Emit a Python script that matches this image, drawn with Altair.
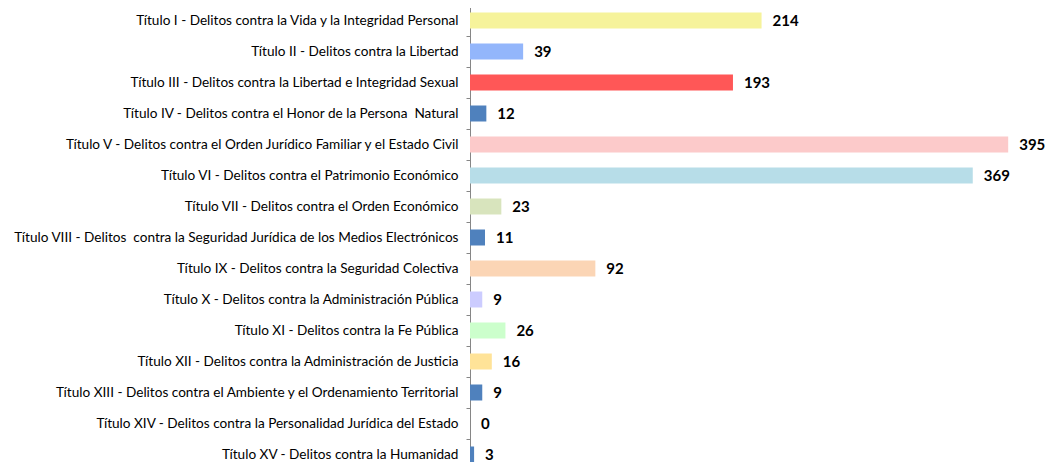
import altair as alt
import pandas as pd

NB = "\u00a0"
categories = [
    "Título I - Delitos contra la Vida y la Integridad Personal" + NB,
    "Título II - Delitos contra la Libertad",
    "Título III - Delitos contra la Libertad e Integridad Sexual" + NB,
    "Título IV - Delitos contra el Honor de la Persona" + NB + " Natural" + NB,
    "Título V - Delitos contra el Orden Jurídico Familiar y el Estado Civil",
    "Título VI - Delitos contra el Patrimonio Económico",
    "Título VII - Delitos contra el Orden Económico",
    "Título VIII - Delitos" + NB + " contra la Seguridad Jurídica de los Medios Electrónicos" + NB,
    "Título IX - Delitos contra la Seguridad Colectiva",
    "Título X - Delitos contra la Administración Pública" + NB,
    "Título XI - Delitos contra la Fe Pública",
    "Título XII - Delitos contra la Administración de Justicia",
    "Título XIII - Delitos contra el Ambiente y el Ordenamiento Territorial",
    "Título XIV - Delitos contra la Personalidad Jurídica del Estado" + NB,
    "Título XV - Delitos contra la Humanidad",
]
values = [214, 39, 193, 12, 395, 369, 23, 11, 92, 9, 26, 16, 9, 0, 3]
colors = [
    "#F6F39B", "#93B6FB", "#FF5757", "#4F81BD", "#FCCACA",
    "#B7DDE8", "#D8E4BD", "#4F81BD", "#FBD5B5", "#CCCCFF",
    "#CCFFCC", "#FFE398", "#4F81BD", "#4F81BD", "#4F81BD",
]

df = pd.DataFrame({"titulo": categories, "casos": values, "color": colors})

yenc = alt.Y(
    "titulo:N",
    sort=categories,
    title=None,
    scale=alt.Scale(paddingInner=0, paddingOuter=0),
    axis=alt.Axis(
        domainColor="#868686",
        tickColor="#868686",
        tickSize=4,
        tickBand="extent",
        labelPadding=8,
        labelFont="Lato",
        labelFontSize=13.6,
        labelColor="#000000",
        labelLimit=0,
        grid=False,
    ),
)

base = alt.Chart(df).encode(y=yenc)

bars = base.mark_bar(size=16).encode(
    x=alt.X("casos:Q", scale=alt.Scale(domain=[0, 400]), axis=None),
    color=alt.Color("color:N", scale=None),
)

text = base.mark_text(
    align="left", baseline="middle", dx=11, font="Lato", fontWeight="bold", fontSize=15, color="#000000"
).encode(x=alt.X("casos:Q"), text=alt.Text("casos:Q"))

chart = (
    (bars + text)
    .properties(
        width=545,
        height=465,
        autosize=alt.AutoSizeParams(type="none"),
        padding={"left": 462, "top": -3, "right": 30, "bottom": -8},
    )
    .configure_view(stroke=None)
)

chart.save("out.html", embed_options={"renderer": "svg", "actions": False})
